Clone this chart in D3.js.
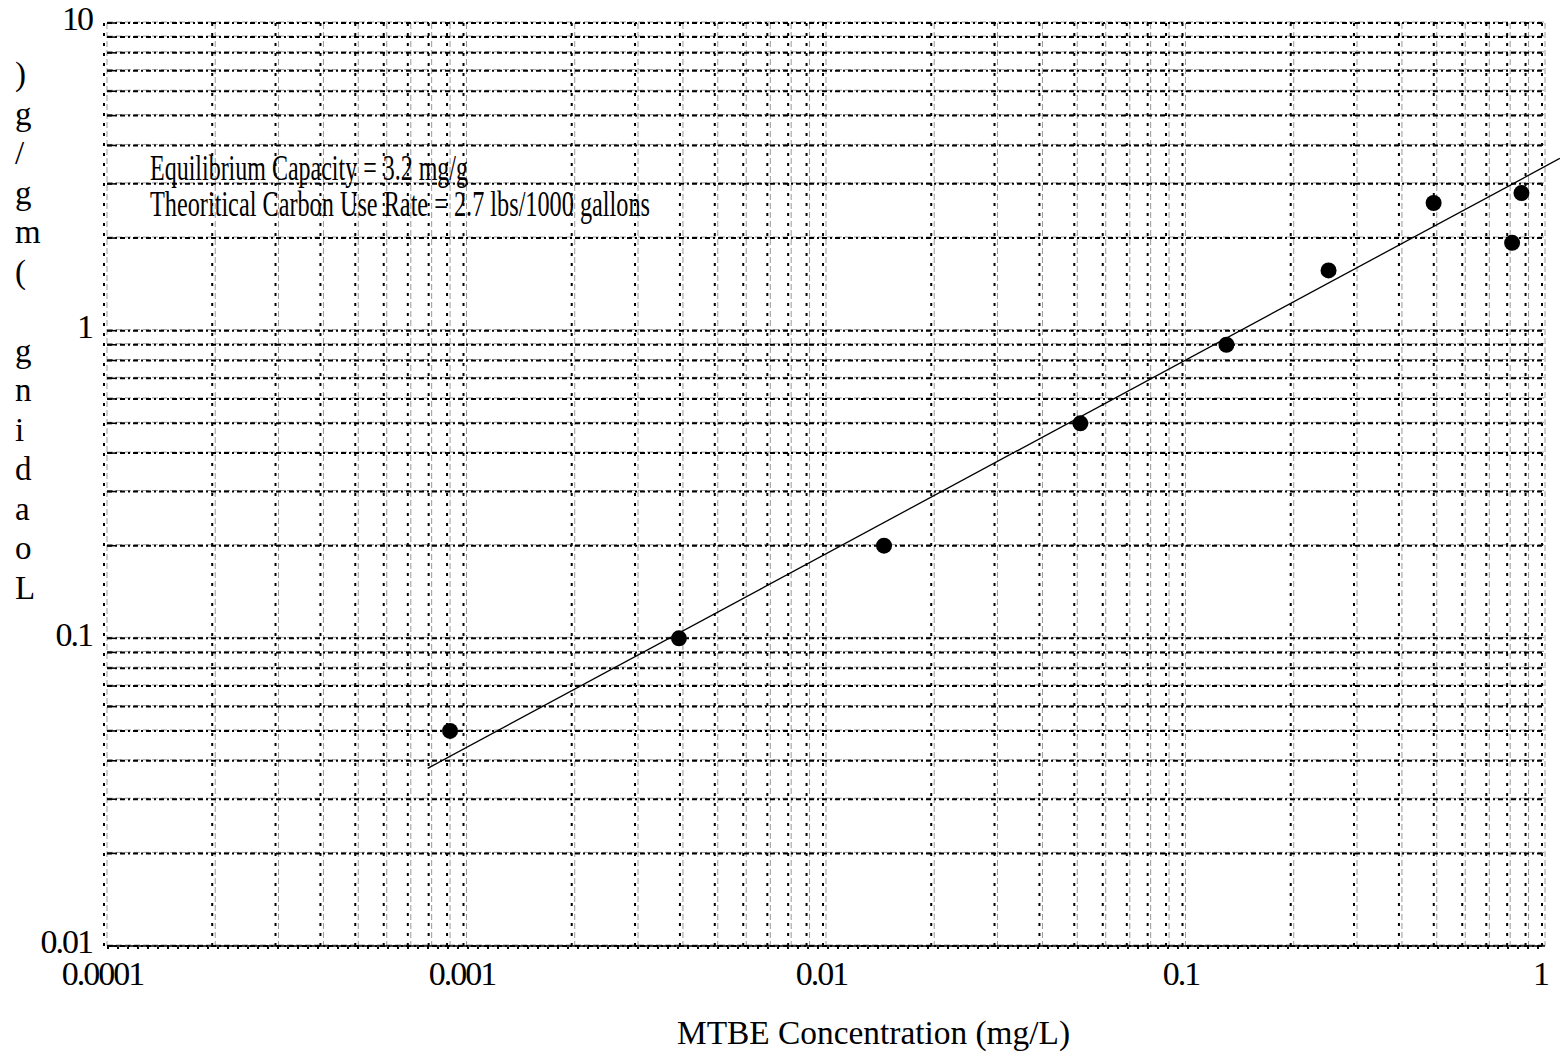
<!DOCTYPE html>
<html>
<meta charset="utf-8" />
<style>
	html,
	body {
		margin: 0px;
		padding: 0px;
		background: #fff;
	}
	svg {
		display: block;
	}
	text {
		font-family: "Liberation Serif", "Times New Roman", serif;
		fill: #000;
	}
</style>
<svg width="1560" height="1061"></svg>
<script src="https://d3js.org/d3.v7.min.js"></script>
<script>
	// isotherm points
	var concentration = [0.0009, 0.0039, 0.0145, 0.051, 0.13, 0.25, 0.49, 0.81, 0.86];
	var loading = [0.05, 0.1, 0.2, 0.5, 0.9, 1.57, 2.6, 1.93, 2.8];

	// ends of the fitted line
	var fitConc = [0.00078, 1.1];
	var fitLoad = [0.0378, 3.63];

	var xTicks = [0.0001, 0.001, 0.01, 0.1, 1];
	var xTickLabels = ["0.0001", "0.001", "0.01", "0.1", "1"];
	var yTicks = [0.01, 0.1, 1, 10];
	var yTickLabels = ["0.01", "0.1", "1", "10"];

	var notes = ["Equilibrium Capacity = 3.2 mg/g", "Theoritical Carbon Use Rate = 2.7 lbs/1000 gallons"];
	var xTitle = "MTBE Concentration (mg/L)";
	var yTitle = "Loading (mg/g)";

	var svg = d3.select("svg");
	var plotLeft = 107,
		plotRight = 1545,
		plotTop = 23,
		plotBottom = 946;

	var x = d3.scaleLog().domain([0.0001, 1]).range([plotLeft, plotRight]);
	var y = d3.scaleLog().domain([0.01, 10]).range([plotBottom, plotTop]);

	// grid: a grey dashed line with a black dotted one next to it
	var grid = svg.append("g");
	var xs = x.ticks(),
		ys = y.ticks();

	grid.selectAll(".vg")
		.data(xs)
		.enter()
		.append("line")
		.attr("x1", function (d) { return x(d); })
		.attr("x2", function (d) { return x(d); })
		.attr("y1", plotTop)
		.attr("y2", plotBottom)
		.attr("stroke", "#9a9a9a")
		.attr("stroke-width", 1)
		.attr("stroke-dasharray", "6,3");

	grid.selectAll(".hg")
		.data(ys)
		.enter()
		.append("line")
		.attr("x1", plotLeft)
		.attr("x2", plotRight)
		.attr("y1", function (d) { return y(d) - 1; })
		.attr("y2", function (d) { return y(d) - 1; })
		.attr("stroke", "#9a9a9a")
		.attr("stroke-width", 1)
		.attr("stroke-dasharray", "6,3");

	grid.selectAll(".vb")
		.data(xs)
		.enter()
		.append("line")
		.attr("x1", function (d) { return x(d) - 3; })
		.attr("x2", function (d) { return x(d) - 3; })
		.attr("y1", plotTop)
		.attr("y2", plotBottom)
		.attr("stroke", "#000")
		.attr("stroke-width", 2)
		.attr("stroke-dasharray", "3,7");

	grid.selectAll(".hb")
		.data(ys)
		.enter()
		.append("line")
		.attr("x1", plotLeft)
		.attr("x2", plotRight)
		.attr("y1", function (d) { return y(d); })
		.attr("y2", function (d) { return y(d); })
		.attr("stroke", "#000")
		.attr("stroke-width", 2)
		.attr("stroke-dasharray", "5,3,2,3");

	// left ticks
	grid.selectAll(".lt")
		.data(ys)
		.enter()
		.append("line")
		.attr("x1", plotLeft)
		.attr("x2", plotLeft + 8)
		.attr("y1", function (d) { return y(d); })
		.attr("y2", function (d) { return y(d); })
		.attr("stroke", "#000")
		.attr("stroke-width", 1.5);

	// bottom axis line
	svg.append("line")
		.attr("x1", plotLeft)
		.attr("x2", plotRight)
		.attr("y1", plotBottom)
		.attr("y2", plotBottom)
		.attr("stroke", "#000")
		.attr("stroke-width", 1.5);
	svg.append("line")
		.attr("x1", plotLeft)
		.attr("x2", plotRight)
		.attr("y1", plotBottom + 2)
		.attr("y2", plotBottom + 2)
		.attr("stroke", "#000")
		.attr("stroke-width", 2)
		.attr("stroke-dasharray", "2,8");

	// axes, labels only
	var xAxis = svg
		.append("g")
		.attr("transform", "translate(-5," + plotBottom + ")")
		.call(
			d3.axisBottom(x)
				.tickValues(xTicks)
				.tickSize(0)
				.tickPadding(15)
				.tickFormat(function (d, i) { return xTickLabels[i]; })
		);
	xAxis.select(".domain").remove();
	xAxis.selectAll("text").attr("font-size", 34).style("letter-spacing", "-2px");

	var yAxis = svg
		.append("g")
		.attr("transform", "translate(" + (plotLeft - 15) + ",-4)")
		.call(
			d3.axisLeft(y)
				.tickValues(yTicks)
				.tickSize(0)
				.tickPadding(0)
				.tickFormat(function (d, i) { return yTickLabels[i]; })
		);
	yAxis.select(".domain").remove();
	yAxis.selectAll("text").attr("font-size", 34).style("letter-spacing", "-2px");

	// fitted line
	var line = d3
		.line()
		.x(function (d) { return x(d[0]); })
		.y(function (d) { return y(d[1]); });
	svg.append("path")
		.datum(d3.zip(fitConc, fitLoad))
		.attr("d", line)
		.attr("fill", "none")
		.attr("stroke", "#000")
		.attr("stroke-width", 1.3);

	// points
	svg.append("g")
		.selectAll("circle")
		.data(d3.zip(concentration, loading))
		.enter()
		.append("circle")
		.attr("cx", function (d) { return x(d[0]); })
		.attr("cy", function (d) { return y(d[1]); })
		.attr("r", 8)
		.attr("fill", "#000");

	// notes
	var noteWidths = [318, 500];
	svg.selectAll(".note")
		.data(notes)
		.enter()
		.append("text")
		.attr("x", 150)
		.attr("y", function (d, i) { return 180 + i * 36; })
		.attr("font-size", 35)
		.attr("textLength", function (d, i) { return noteWidths[i]; })
		.attr("lengthAdjust", "spacingAndGlyphs")
		.text(function (d) { return d; });

	// x title
	svg.append("text")
		.attr("x", 677)
		.attr("y", 1044)
		.attr("font-size", 33)
		.attr("textLength", 393)
		.attr("lengthAdjust", "spacingAndGlyphs")
		.text(xTitle);

	// y title, one character per line, reversed
	var chars = yTitle.split("").reverse();
	svg.append("g")
		.selectAll("text")
		.data(chars)
		.enter()
		.append("text")
		.attr("x", 15)
		.attr("y", function (d, i) { return 85 + i * 39.5; })
		.attr("font-size", 33)
		.text(function (d) { return d; });
</script>
</html>
